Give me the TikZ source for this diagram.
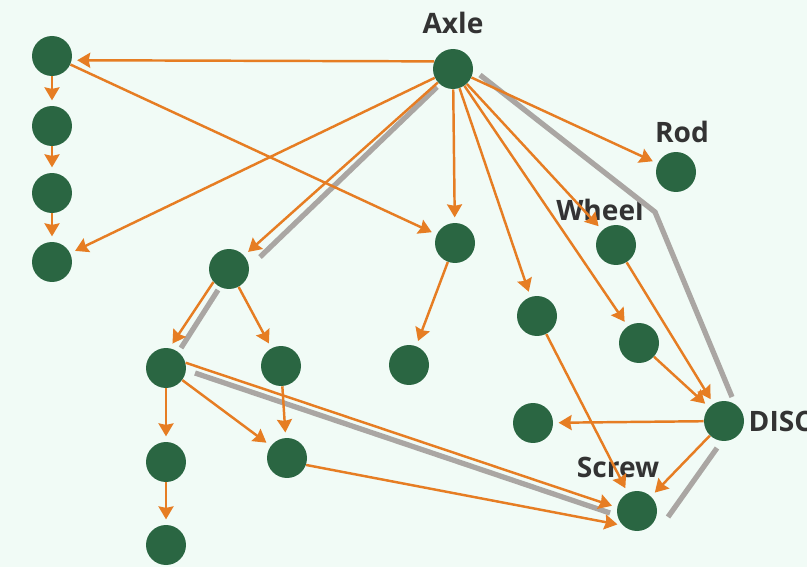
\documentclass[tikz,border=0pt]{standalone}
\usepackage{fontspec}
\setmainfont{Open Sans}
\usepackage{tikz}
\usetikzlibrary{arrows.meta, positioning}
\definecolor{bgmint}{RGB}{241,251,246}
\definecolor{partgreen}{RGB}{42,102,66}
\definecolor{linkorange}{RGB}{230,125,35}
\definecolor{routegray}{RGB}{170,166,163}
\definecolor{tagtext}{RGB}{51,51,51}

\begin{document}
\begin{tikzpicture}[
    x=0.02cm, y=-0.02cm,
    part/.style={circle, fill=partgreen, minimum size=0.8cm, inner sep=0pt},
    tag/.style={font=\bfseries\fontsize{16}{18}\selectfont, text=tagtext, inner sep=0pt},
    link/.style={draw=linkorange, line width=1.4pt, shorten >=3pt,
        -{Stealth[length=0.26cm, width=0.3cm, inset=0.03cm]}},
    route/.style={draw=routegray, line width=3pt}
]
    \fill[bgmint] (0,0) rectangle (807,567);
    \clip (0,0) rectangle (807,567);

    % Parts
    \node[part] (Axle) at (453,69) {};
    \node[part] (col1) at (52,56) {};
    \node[part] (col2) at (52,126) {};
    \node[part] (col3) at (52,193) {};
    \node[part] (col4) at (52,262) {};
    \node[part] (Rod) at (676,172) {};
    \node[part] (mid) at (455,243) {};
    \node[part] (midlow) at (409,365) {};
    \node[part] (Wheel) at (616,245) {};
    \node[part] (ra) at (537,316) {};
    \node[part] (rb) at (639,343) {};
    \node[part] (rc) at (533,423) {};
    \node[part] (DISC) at (724,421) {};
    \node[part] (Screw) at (637,511) {};
    \node[part] (ta) at (229,269) {};
    \node[part] (tb) at (166,368) {};
    \node[part] (tc) at (281,366) {};
    \node[part] (td) at (166,462) {};
    \node[part] (te) at (287,458) {};
    \node[part] (tf) at (166,545) {};

    % Names
    \node[tag, above=0.3cm of Axle] {Axle};
    \node[tag, above=0.18cm of Rod, xshift=0.12cm] {Rod};
    \node[tag, above=0.08cm of Wheel, xshift=-0.32cm] {Wheel};
    \node[tag, above=0.26cm of Screw, xshift=-0.38cm] {Screw};
    \node[tag, right=0.08cm of DISC] {DISC};

    % Highlighted route
    \coordinate (bend) at (655,212);
    \draw[route] ([shift={(-16,18)}]Axle.center) -- ([shift={(31,-12)}]ta.center);
    \draw[route] ([shift={(-11,21)}]ta.center) -- ([shift={(15,-20)}]tb.center);
    \draw[route] ([shift={(29,5)}]tb.center) -- ([shift={(-27,2)}]Screw.center);
    \draw[route] ([shift={(31,6)}]Screw.center) -- ([shift={(-7,27)}]DISC.center);
    \draw[route] ([shift={(8,-24)}]DISC.center) -- (bend) -- ([shift={(27,6)}]Axle.center);

    % Links
    \draw[link] (Axle.158) -- (col1.-12);
    \draw[link] (col1) -- (col2);
    \draw[link] (col2) -- (col3);
    \draw[link] (col3) -- (col4);
    \draw[link] (col1) -- (mid);
    \draw[link] (Axle) -- (col4);
    \draw[link] (Axle) -- (ta);
    \draw[link] (Axle) -- (mid);
    \draw[link] (Axle) -- (ra);
    \draw[link] (Axle) -- (Wheel);
    \draw[link] (Axle) -- (rb);
    \draw[link] (Axle) -- (Rod);
    \draw[link] (mid) -- (midlow);
    \draw[link] (Wheel) -- (DISC);
    \draw[link] (rb) -- (DISC);
    \draw[link] (ra) -- (Screw);
    \draw[link] (DISC) -- (rc);
    \draw[link] (DISC) -- (Screw);
    \draw[link] (ta.220) -- (tb.80);
    \draw[link] (ta) -- (tc);
    \draw[link] (tb) -- (td);
    \draw[link] (tb) -- (te);
    \draw[link] (tb.15) -- (Screw.170);
    \draw[link] (tc) -- (te);
    \draw[link] (td) -- (tf);
    \draw[link] (te.-20) -- (Screw.225);
\end{tikzpicture}
\end{document}
